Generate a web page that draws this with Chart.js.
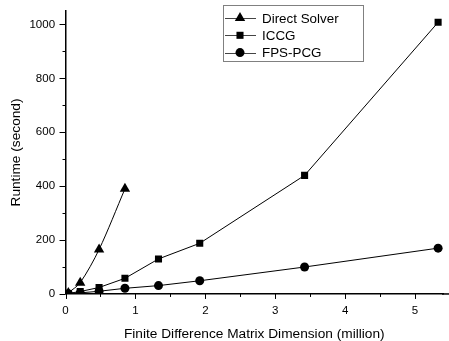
<!DOCTYPE html>
<html>
<head>
<meta charset="utf-8">
<script src="https://cdn.jsdelivr.net/npm/chart.js@4.4.1/dist/chart.umd.min.js"></script>
<style>
    html, body { margin: 0; padding: 0; background: #fff; }
    #wrap { width: 449px; height: 341px; }
</style>
</head>
<body>
<div id="wrap"><canvas id="chart" width="449" height="341"></canvas></div>
<script>
// Daten
const dimDirect = [0.04, 0.21, 0.48, 0.85];
const timeDirect = [4, 42, 165, 390];
const dimIterative = [0.04, 0.21, 0.48, 0.85, 1.33, 1.92, 3.42, 5.33];
const timeICCG = [2, 9, 24, 58, 130, 188, 440, 1008];
const timeFPS = [1, 4, 10, 21, 31, 49, 100, 170];

const seriesNames = ['Direct Solver', 'ICCG', 'FPS-PCG'];
const xTicks = [0, 1, 2, 3, 4, 5];
const yTicks = [0, 200, 400, 600, 800, 1000];

const fontFamily = '"Liberation Sans", Arial, sans-serif';

function toPoints(xs, ys) {
    return xs.map((x, i) => ({ x: x, y: ys[i] }));
}

// Marker zeichnen (für die Legende)
function drawMarker(ctx, style, x, y, r) {
    ctx.beginPath();
    if (style === 'triangle') {
        let rad = 0;
        ctx.moveTo(x + Math.sin(rad) * r, y - Math.cos(rad) * r);
        rad += 2 * Math.PI / 3;
        ctx.lineTo(x + Math.sin(rad) * r, y - Math.cos(rad) * r);
        rad += 2 * Math.PI / 3;
        ctx.lineTo(x + Math.sin(rad) * r, y - Math.cos(rad) * r);
        ctx.closePath();
    } else if (style === 'rect') {
        const s = r * Math.SQRT1_2;
        ctx.rect(x - s, y - s, 2 * s, 2 * s);
    } else {
        ctx.arc(x, y, r, 0, Math.PI * 2);
    }
    ctx.fill();
}

// Haupt- und Nebenstriche an den Achsen, x-Achse bis zum Rand verlängert
const axisTicksPlugin = {
    id: 'axisTicks',
    afterDraw(chart) {
        const ctx = chart.ctx;
        const xs = chart.scales.x, ys = chart.scales.y;
        const area = chart.chartArea;
        ctx.save();
        ctx.strokeStyle = '#000';
        ctx.lineWidth = 1.5;
        ctx.beginPath();
        ctx.moveTo(area.right - 1, area.bottom);
        ctx.lineTo(chart.width, area.bottom);
        ctx.stroke();
        ctx.lineWidth = 1;
        ctx.beginPath();
        for (let v = 0; v <= xs.max; v += 0.5) {
            const px = Math.round(xs.getPixelForValue(v)) + 0.5;
            const len = (Math.abs(v - Math.round(v)) < 1e-6) ? 5 : 3;
            ctx.moveTo(px, area.bottom);
            ctx.lineTo(px, area.bottom + len);
        }
        for (let v = 0; v <= 1000; v += 100) {
            const py = Math.round(ys.getPixelForValue(v)) + 0.5;
            const len = (v % 200 === 0) ? 6 : 3;
            ctx.moveTo(area.left, py);
            ctx.lineTo(area.left - len, py);
        }
        ctx.stroke();
        ctx.restore();
    }
};

// Legende mit Rahmen, Linie-Symbol-Linie
const boxLegendPlugin = {
    id: 'boxLegend',
    afterDraw(chart) {
        const ctx = chart.ctx;
        ctx.save();
        ctx.strokeStyle = '#808080';
        ctx.lineWidth = 1;
        ctx.strokeRect(223.5, 5.5, 140, 56);
        ctx.font = '13.4px ' + fontFamily;
        ctx.textBaseline = 'middle';
        chart.data.datasets.forEach((ds, i) => {
            const y = 18 + i * 17.3;
            ctx.strokeStyle = '#444';
            ctx.beginPath();
            ctx.moveTo(225, Math.round(y) + 0.5);
            ctx.lineTo(256, Math.round(y) + 0.5);
            ctx.stroke();
            ctx.fillStyle = '#000';
            drawMarker(ctx, ds.pointStyle, 240, y, ds.pointRadius);
            ctx.fillText(ds.label, 262, y + 1);
        });
        ctx.restore();
    }
};

const commonDs = {
    borderColor: '#000',
    backgroundColor: '#000',
    borderWidth: 1,
    pointBorderWidth: 0,
    showLine: true,
    fill: false
};

new Chart(document.getElementById('chart'), {
    type: 'scatter',
    data: {
        datasets: [
            Object.assign({}, commonDs, {
                label: seriesNames[0],
                data: toPoints(dimDirect, timeDirect),
                pointStyle: 'triangle',
                pointRadius: 6,
                tension: 0.3
            }),
            Object.assign({}, commonDs, {
                label: seriesNames[1],
                data: toPoints(dimIterative, timeICCG),
                pointStyle: 'rect',
                pointRadius: 5,
                tension: 0
            }),
            Object.assign({}, commonDs, {
                label: seriesNames[2],
                data: toPoints(dimIterative, timeFPS),
                pointStyle: 'circle',
                pointRadius: 4.5,
                tension: 0
            })
        ]
    },
    options: {
        responsive: false,
        animation: false,
        devicePixelRatio: 1,
        layout: { padding: { left: 8.5, right: 0, top: 11, bottom: 0 } },
        plugins: {
            legend: { display: false },
            tooltip: { enabled: false }
        },
        scales: {
            x: {
                type: 'linear',
                min: 0,
                max: 5.4,
                afterBuildTicks: (scale) => { scale.ticks = xTicks.map(v => ({ value: v })); },
                // Striche selbst gezeichnet; tickLength dient nur als Abstand
                grid: { display: false, drawTicks: true, tickLength: 10 },
                border: { display: true, color: '#000', width: 1.5 },
                ticks: {
                    color: '#000',
                    font: { family: fontFamily, size: 11.5 },
                    padding: 0,
                    maxRotation: 0,
                    callback: (v) => String(v)
                },
                title: {
                    display: true,
                    text: 'Finite Difference Matrix Dimension (million)',
                    color: '#000',
                    font: { family: fontFamily, size: 13.7 },
                    padding: { top: 8, bottom: -1.2 }
                }
            },
            y: {
                type: 'linear',
                min: 0,
                max: 1050,
                afterBuildTicks: (scale) => { scale.ticks = yTicks.map(v => ({ value: v })); },
                grid: { display: false, drawTicks: true, tickLength: 10.5 },
                border: { display: true, color: '#000', width: 1.5 },
                ticks: {
                    color: '#000',
                    font: { family: fontFamily, size: 11.5 },
                    padding: 0,
                    callback: (v) => String(v)
                },
                title: {
                    display: true,
                    text: 'Runtime (second)',
                    color: '#000',
                    font: { family: fontFamily, size: 13.7 },
                    padding: { top: 0, bottom: 4.5 }
                }
            }
        }
    },
    plugins: [axisTicksPlugin, boxLegendPlugin]
});
</script>
</body>
</html>
